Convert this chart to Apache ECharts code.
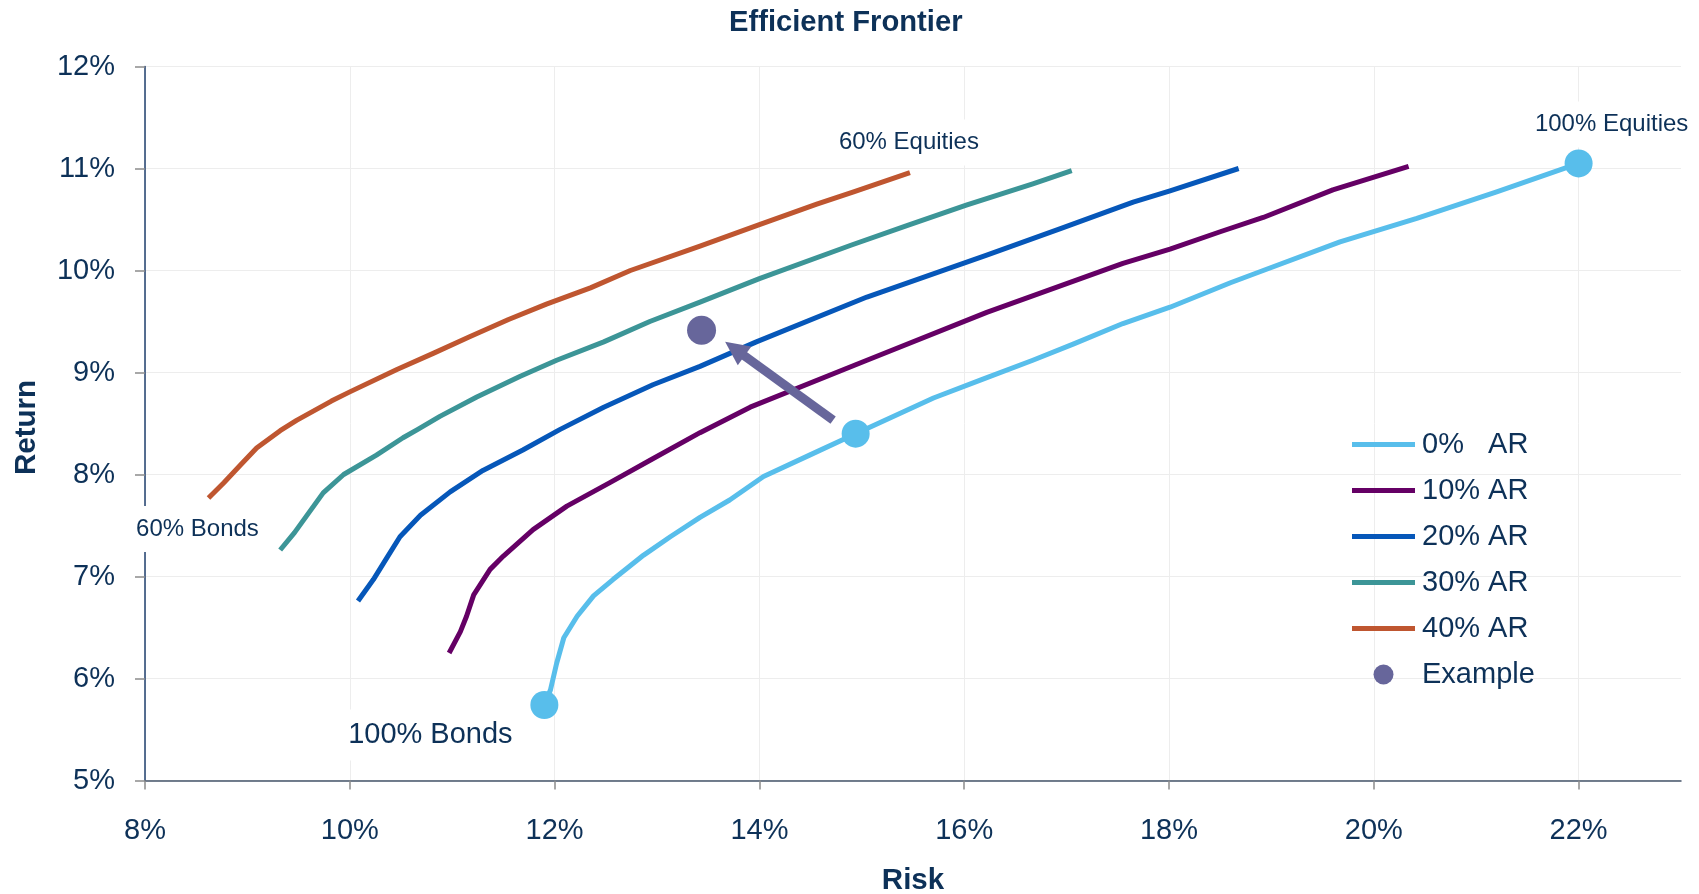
<!DOCTYPE html>
<html>
<head>
<meta charset="utf-8">
<title>Efficient Frontier</title>
<script src="https://cdn.jsdelivr.net/npm/echarts@6/dist/echarts.min.js"></script>
<style>
  html, body { margin: 0; padding: 0; background: #ffffff; }
  #chart { width: 1699px; height: 894px; }
</style>
</head>
<body>
<div id="chart"></div>
<script>
// Frontier curves as [risk %, return %] pairs, one per alternative-asset (AR) weight
const ar0 = [[11.90,5.74],[11.96,5.89],[12.02,6.15],[12.09,6.40],[12.22,6.61],[12.38,6.81],[12.57,6.97],
  [12.87,7.21],[13.13,7.39],[13.42,7.58],[13.71,7.75],[14.04,7.98],[14.49,8.19],[14.94,8.40],[15.70,8.75],
  [16.17,8.93],[16.67,9.12],[17.07,9.28],[17.55,9.48],[18.01,9.64],[18.60,9.88],[18.92,10.00],[19.67,10.28],
  [20.42,10.51],[21.20,10.77],[22.00,11.05]];
const ar10 = [[10.97,6.25],[11.08,6.46],[11.14,6.61],[11.21,6.82],[11.37,7.07],[11.50,7.20],[11.79,7.46],
  [12.12,7.69],[12.54,7.92],[12.95,8.15],[13.42,8.41],[13.91,8.66],[15.05,9.12],[16.22,9.59],[17.55,10.07],
  [18.01,10.21],[18.50,10.38],[18.92,10.52],[19.60,10.79],[20.34,11.02]];
const ar20 = [[10.08,6.76],[10.23,6.97],[10.36,7.18],[10.49,7.39],[10.69,7.60],[10.98,7.83],[11.30,8.04],
  [11.69,8.24],[12.05,8.44],[12.48,8.66],[12.96,8.88],[13.42,9.06],[13.97,9.30],[15.05,9.74],[16.22,10.15],
  [16.94,10.41],[17.65,10.67],[18.01,10.78],[18.68,11.00]];
const ar30 = [[9.32,7.26],[9.46,7.43],[9.74,7.82],[9.94,8.00],[10.26,8.19],[10.52,8.36],[10.66,8.44],
  [10.88,8.57],[11.24,8.76],[11.66,8.96],[12.02,9.12],[12.48,9.30],[12.93,9.50],[13.42,9.69],[14.00,9.92],
  [14.90,10.25],[15.44,10.44],[16.02,10.64],[16.67,10.85],[17.05,10.98]];
const ar40 = [[8.62,7.77],[8.77,7.92],[8.93,8.09],[9.09,8.26],[9.32,8.43],[9.48,8.53],[9.82,8.72],
  [10.00,8.81],[10.46,9.03],[10.82,9.19],[11.17,9.35],[11.55,9.52],[11.92,9.67],[12.35,9.83],[12.74,10.00],
  [13.42,10.24],[14.00,10.45],[14.56,10.65],[14.92,10.77],[15.47,10.96]];

// Highlighted portfolios on the 0% AR frontier: 100% bonds, current mix, 100% equities
const milestones = [[11.90,5.74],[14.94,8.40],[22.00,11.05]];
// Example portfolio after adding alternatives, and the move towards it
const example = [[13.435,9.415]];
const shift = [[14.72,8.533],[13.76,9.232]];

const seriesNames = ['0%   AR', '10% AR', '20% AR', '30% AR', '40% AR'];
const exampleName = 'Example';
const noteText = ['100% Bonds', '60% Bonds', '60% Equities', '100% Equities'];
const xTicks = [8, 10, 12, 14, 16, 18, 20, 22];
const yTicks = [5, 6, 7, 8, 9, 10, 11, 12];

const NAVY = '#0D3158';
const FONT = 'Arial, "Liberation Sans", Helvetica, sans-serif';
const colors = ['#58BEEB', '#650065', '#0657B9', '#3C9597', '#BF5630'];
const exampleColor = '#67669B';
const curves = [ar0, ar10, ar20, ar30, ar40];

const chart = echarts.init(document.getElementById('chart'), null, { renderer: 'canvas' });

const lineSeries = curves.map((pts, i) => ({
  name: seriesNames[i],
  type: 'line',
  data: pts,
  symbol: 'none',
  showSymbol: false,
  smooth: false,
  z: 3,
  color: colors[i],
  lineStyle: { color: colors[i], width: 5, cap: 'butt', join: 'round' },
  emphasis: { disabled: true }
}));

const noteLabel = (text, offset, size) => ({
  show: true, position: 'inside', formatter: text, offset: offset,
  fontSize: size, fontFamily: FONT, color: NAVY,
  backgroundColor: '#ffffff', padding: [11, 5]
});

// flat bar used as the legend key for each frontier line
const barIcon = 'path://M0,0H63V5H0Z';

const option = {
  animation: false,
  backgroundColor: '#ffffff',
  title: {
    text: 'Efficient Frontier',
    left: 724, top: 3,
    textStyle: { fontFamily: FONT, fontSize: 29.2, fontWeight: 'bold', color: NAVY }
  },
  grid: { left: 145, top: 66.5, right: 18, bottom: 113.5, containLabel: false, outerBoundsMode: 'none' },
  legend: {
    orient: 'vertical',
    left: 1347, top: 425,
    itemWidth: 63, itemHeight: 20, itemGap: 17,
    selectedMode: false,
    textStyle: { fontFamily: FONT, fontSize: 29, color: NAVY, padding: [0, 0, 0, 2] },
    data: seriesNames.map((n, i) => ({ name: n, icon: barIcon, itemStyle: { color: colors[i] } }))
      .concat([{ name: exampleName, icon: 'circle', itemStyle: { color: exampleColor } }])
  },
  xAxis: {
    type: 'value', min: 8, max: 23, interval: 2,
    name: 'Risk', nameLocation: 'middle', nameGap: 85,
    nameTextStyle: { fontFamily: FONT, fontSize: 29.5, fontWeight: 'bold', color: NAVY },
    axisLine: { show: true, onZero: false, lineStyle: { color: '#44546A', width: 1.5 } },
    axisTick: { show: true, length: 9, customValues: xTicks, lineStyle: { color: '#8C8C8C', width: 1.5 } },
    axisLabel: { customValues: xTicks, formatter: '{value}%', margin: 36, fontFamily: FONT, fontSize: 29, color: NAVY },
    splitLine: { show: true, lineStyle: { color: '#EDEDED', width: 1 } }
  },
  yAxis: {
    type: 'value', min: 5, max: 12, interval: 1,
    name: 'Return', nameLocation: 'middle', nameGap: 103, nameRotate: 90,
    nameTextStyle: { fontFamily: FONT, fontSize: 29.5, fontWeight: 'bold', color: NAVY, padding: [0, 8, 0, 0] },
    axisLine: { show: true, onZero: false, lineStyle: { color: '#1F3F6E', width: 1.5 } },
    axisTick: { show: true, length: 10, customValues: yTicks, lineStyle: { color: '#8C8C8C', width: 1.5 } },
    axisLabel: { customValues: yTicks, formatter: '{value}%', margin: 30, padding: [11, 0, 0, 0],
      fontFamily: FONT, fontSize: 29, color: NAVY },
    splitLine: { show: true, lineStyle: { color: '#EDEDED', width: 1 } }
  },
  series: lineSeries.concat([
    {
      name: 'milestones',
      type: 'scatter',
      data: milestones,
      symbol: 'circle',
      symbolSize: 28,
      z: 5,
      itemStyle: { color: colors[0], opacity: 1 },
      emphasis: { disabled: true },
      silent: true
    },
    {
      name: exampleName,
      type: 'scatter',
      data: example,
      symbol: 'circle',
      symbolSize: 29,
      z: 6,
      color: exampleColor,
      itemStyle: { color: exampleColor, opacity: 1 },
      emphasis: { disabled: true },
      markLine: {
        silent: true,
        symbol: ['none', 'triangle'],
        symbolSize: [23, 24],
        label: { show: false },
        lineStyle: { color: exampleColor, width: 9, type: 'solid', opacity: 1 },
        emphasis: { disabled: true },
        data: [[{ coord: shift[0] }, { coord: shift[1] }]]
      }
    },
    {
      name: 'notes',
      type: 'scatter',
      symbol: 'circle',
      symbolSize: 1,
      z: 7,
      silent: true,
      itemStyle: { color: 'rgba(0,0,0,0)', opacity: 1 },
      emphasis: { disabled: true },
      data: [
        { value: ar0[0], label: noteLabel(noteText[0], [-114, 30], 29) },
        { value: ar40[0], label: noteLabel(noteText[1], [-11, 31], 24) },
        { value: ar40[ar40.length - 1], label: noteLabel(noteText[2], [-1, -30], 24) },
        { value: ar0[ar0.length - 1], label: noteLabel(noteText[3], [33, -39], 24) }
      ]
    }
  ])
};

chart.setOption(option);
</script>
</body>
</html>
